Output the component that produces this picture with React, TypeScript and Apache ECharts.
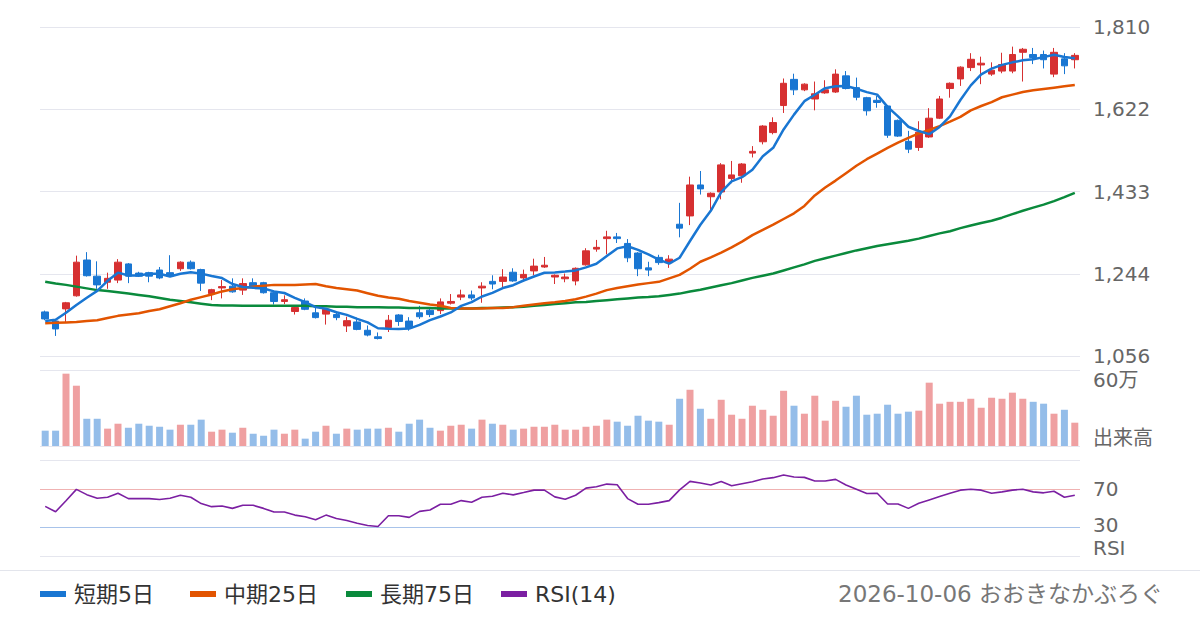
import React, { useEffect, useRef } from "react";
import * as echarts from "echarts";

// ---- data ----
const OPEN = [
  1157, 1136, 1164, 1194, 1276, 1239, 1225, 1230, 1267, 1246,
  1247, 1253, 1247, 1256, 1271, 1254, 1199, 1212, 1216, 1207,
  1224, 1224, 1201, 1181, 1158, 1182, 1155, 1152, 1151, 1125,
  1134, 1115, 1100, 1121, 1150, 1136, 1155, 1161, 1160, 1177,
  1191, 1196, 1212, 1227, 1227, 1248, 1235, 1251, 1260, 1237,
  1233, 1228, 1265, 1301, 1325, 1329, 1314, 1292, 1258, 1282,
  1270, 1358, 1377, 1448, 1421, 1432, 1463, 1469, 1521, 1547,
  1568, 1630, 1690, 1666, 1645, 1659, 1661, 1698, 1671, 1648,
  1642, 1629, 1596, 1548, 1534, 1558, 1601, 1669, 1691, 1717,
  1723, 1702, 1709, 1709, 1752, 1747, 1747, 1702, 1737, 1735,
];
const CLOSE = [
  1141, 1118, 1178, 1271, 1240, 1219, 1234, 1271, 1239, 1239,
  1239, 1235, 1239, 1271, 1256, 1223, 1208, 1215, 1203, 1222,
  1213, 1201, 1181, 1185, 1167, 1163, 1144, 1163, 1144, 1137,
  1117, 1104, 1096, 1138, 1135, 1121, 1146, 1151, 1180, 1181,
  1196, 1189, 1216, 1221, 1237, 1228, 1243, 1262, 1264, 1241,
  1237, 1257, 1297, 1305, 1329, 1325, 1281, 1256, 1253, 1270,
  1278, 1349, 1448, 1439, 1429, 1494, 1471, 1496, 1525, 1583,
  1591, 1681, 1666, 1679, 1657, 1666, 1702, 1669, 1649, 1618,
  1637, 1562, 1560, 1530, 1569, 1601, 1645, 1681, 1718, 1736,
  1727, 1711, 1724, 1747, 1759, 1740, 1735, 1752, 1721, 1745,
];
const HIGH = [
  1160, 1138, 1180, 1286, 1294, 1273, 1247, 1278, 1269, 1249,
  1249, 1260, 1287, 1273, 1275, 1256, 1210, 1230, 1234, 1234,
  1234, 1226, 1204, 1195, 1169, 1188, 1168, 1165, 1158, 1146,
  1144, 1126, 1110, 1150, 1152, 1145, 1171, 1168, 1188, 1198,
  1208, 1206, 1225, 1241, 1255, 1257, 1254, 1279, 1283, 1243,
  1245, 1259, 1303, 1322, 1343, 1338, 1324, 1294, 1272, 1288,
  1287, 1407, 1467, 1480, 1431, 1498, 1503, 1498, 1537, 1585,
  1603, 1692, 1703, 1681, 1685, 1688, 1713, 1709, 1694, 1650,
  1652, 1631, 1598, 1572, 1594, 1624, 1652, 1683, 1720, 1750,
  1742, 1729, 1751, 1765, 1762, 1762, 1756, 1762, 1750, 1750,
];
const LOW = [
  1138, 1102, 1134, 1192, 1238, 1210, 1210, 1223, 1223, 1237,
  1225, 1232, 1237, 1251, 1254, 1205, 1184, 1188, 1201, 1196,
  1211, 1199, 1174, 1175, 1151, 1161, 1142, 1128, 1138, 1111,
  1115, 1101, 1094, 1111, 1125, 1114, 1141, 1145, 1152, 1174,
  1184, 1184, 1178, 1209, 1214, 1226, 1227, 1241, 1258, 1221,
  1225, 1218, 1263, 1295, 1289, 1315, 1271, 1239, 1239, 1265,
  1258, 1328, 1356, 1426, 1390, 1415, 1452, 1453, 1511, 1541,
  1564, 1613, 1654, 1663, 1619, 1657, 1659, 1667, 1642, 1607,
  1625, 1556, 1558, 1521, 1526, 1556, 1599, 1648, 1675, 1709,
  1679, 1698, 1704, 1704, 1685, 1725, 1715, 1695, 1702, 1715,
];
const VOLUME = [
  121000, 121000, 571000, 476000, 215000, 215000, 137000, 176000, 144000, 176000,
  160000, 152000, 129000, 168000, 168000, 208000, 113000, 129000, 105000, 144000,
  97000, 81000, 129000, 97000, 129000, 58000, 113000, 160000, 97000, 137000,
  129000, 137000, 137000, 144000, 113000, 176000, 208000, 144000, 121000, 160000,
  168000, 137000, 208000, 176000, 168000, 129000, 137000, 152000, 152000, 168000,
  129000, 129000, 152000, 160000, 208000, 192000, 160000, 239000, 200000, 192000,
  168000, 373000, 444000, 294000, 215000, 365000, 247000, 215000, 318000, 286000,
  239000, 436000, 318000, 255000, 397000, 200000, 357000, 310000, 397000, 247000,
  255000, 326000, 255000, 271000, 279000, 500000, 334000, 349000, 349000, 373000,
  302000, 381000, 373000, 421000, 373000, 349000, 334000, 255000, 286000, 184000,
];
const MA5 = [
  1136, 1139, 1155, 1173, 1189.6, 1205.2, 1228.4, 1247.0, 1240.6, 1240.4,
  1244.4, 1244.6, 1238.2, 1244.6, 1248, 1244.8, 1239.4, 1234.6, 1221, 1214.2,
  1212.2, 1210.8, 1204, 1200.4, 1189.4, 1179.4, 1168, 1164.4, 1156.2, 1150.2,
  1141, 1133, 1119.6, 1118.4, 1118, 1118.8, 1127.2, 1138.2, 1146.6, 1155.8,
  1170.8, 1179.4, 1192.4, 1200.6, 1211.8, 1218.2, 1229, 1238.2, 1246.8, 1247.6,
  1249.4, 1252.2, 1259.2, 1267.4, 1285, 1302.6, 1307.4, 1299.2, 1288.8, 1277,
  1267.6, 1281.2, 1319.6, 1356.8, 1388.6, 1431.8, 1456.2, 1465.8, 1483, 1513.8,
  1533.2, 1575.2, 1609.2, 1640, 1654.8, 1669.8, 1674, 1674.6, 1668.6, 1660.8,
  1655, 1627, 1605.2, 1581.4, 1571.6, 1564.4, 1581, 1605.2, 1642.8, 1676.2,
  1701.4, 1714.6, 1723.2, 1729, 1733.6, 1736.2, 1741, 1746.6, 1741.4, 1738.6,
];
const MA25 = [
  1131, 1132, 1133, 1134, 1136, 1138, 1143, 1148, 1151, 1154,
  1159, 1163, 1170, 1177, 1185, 1191, 1197, 1204, 1209, 1212,
  1215, 1217, 1219, 1219, 1219, 1220, 1221, 1216, 1212, 1209,
  1206, 1200, 1194, 1190, 1187, 1182, 1178, 1174, 1171, 1166,
  1165, 1165, 1165, 1166, 1166, 1168, 1171, 1174, 1177, 1179,
  1182, 1186, 1192, 1199, 1207, 1212, 1216, 1220, 1223, 1226,
  1234, 1242, 1256, 1272, 1282, 1293, 1305, 1318, 1333, 1345,
  1357, 1370, 1383, 1400, 1424, 1442, 1458, 1475, 1492, 1507,
  1520, 1533, 1545, 1556, 1566, 1574, 1583, 1593, 1604, 1619,
  1629, 1638, 1649, 1655, 1661, 1665, 1668, 1671, 1674, 1677,
];
const MA75 = [
  1226, 1222, 1219, 1215, 1211, 1207, 1205, 1202, 1199, 1196,
  1193, 1189, 1185, 1182, 1179, 1176, 1173, 1172, 1172, 1171,
  1171, 1171, 1171, 1171, 1171, 1171, 1170, 1170, 1169, 1169,
  1168, 1168, 1168, 1167, 1167, 1166, 1166, 1166, 1165, 1165,
  1165, 1165, 1166, 1166, 1167, 1168, 1169, 1171, 1173, 1175,
  1177, 1179, 1180, 1182, 1184, 1186, 1188, 1190, 1191, 1193,
  1196, 1199, 1204, 1208, 1213, 1218, 1223, 1229, 1235, 1240,
  1245, 1252, 1259, 1266, 1274, 1280, 1286, 1292, 1298, 1303,
  1308, 1312, 1316, 1320, 1325, 1331, 1337, 1342, 1349, 1355,
  1361, 1366, 1373, 1381, 1389, 1396, 1403, 1411, 1420, 1430,
];
const RSI = [
  51.7, 46.1, 57.6, 69.4, 63.9, 60.2, 61.2, 65.4, 59.8, 59.8,
  59.8, 58.8, 60.2, 63.3, 61.2, 54.6, 51.4, 52.1, 49.6, 52.8,
  52.8, 49.6, 45.8, 45.8, 42.6, 40.9, 37.7, 42.6, 39.1, 37.0,
  34.2, 31.8, 30.7, 41.9, 41.9, 40.2, 46.5, 47.9, 53.9, 53.9,
  57.7, 56.0, 61.2, 62.3, 65.4, 63.7, 66.1, 68.6, 68.6, 61.6,
  59.1, 63.3, 70.7, 72.1, 74.9, 74.2, 59.8, 53.9, 53.9, 55.6,
  57.7, 68.9, 77.7, 76.0, 73.9, 77.7, 73.2, 75.3, 77.4, 80.2,
  81.6, 84.4, 82.3, 81.9, 78.1, 78.1, 79.8, 73.9, 69.6, 65.1,
  65.4, 54.2, 54.2, 49.6, 54.9, 58.4, 61.9, 65.4, 68.6, 69.6,
  68.6, 65.4, 66.8, 68.6, 69.6, 66.8, 65.8, 67.5, 61.2, 63.3,
];
const PRICE_TICKS = ["1,056", "1,244", "1,433", "1,622", "1,810"];
const PRICE_MIN = 1056;
const PRICE_MAX = 1810;
const VOLUME_MAX = 600000;
const VOLUME_LABELS = ["60万", "出来高"];
const RSI_LABELS = [30, 70];
const SERIES_NAMES = ["短期5日", "中期25日", "長期75日", "RSI(14)"];
const FOOTER = "2026-10-06 おおきなかぶろぐ";

const FONT = "'DejaVu Sans', 'Noto Sans CJK JP', sans-serif";
const UP = "#d63031";
const DOWN = "#1976d2";
const VUP = "#efa0a1";
const VDOWN = "#94bde9";
const C_MA5 = "#1976d2";
const C_MA25 = "#e25400";
const C_MA75 = "#0a8a3c";
const C_RSI = "#7b1fa2";
const GRIDLINE = "#e5e6ee";
const LABEL = "#666";
const LEGEND_LEFT = [40, 190, 346, 501];

export default function App() {
  const ref = useRef<HTMLDivElement>(null);
  useEffect(() => {
    if (!ref.current) return;
    const chart = echarts.init(ref.current, undefined, { renderer: "svg" });
    const cats = OPEN.map((_, i) => String(i + 1));
    const L = 40;
    const R = 120;
    const xBase = {
      type: "category",
      data: cats,
      boundaryGap: true,
      axisLine: { show: false },
      axisTick: { show: false },
      axisLabel: { show: false },
      splitLine: { show: false },
    };
    const labelStyle = { color: LABEL, fontSize: 20, fontFamily: FONT, lineHeight: 20 };
    const option: any = {
      animation: false,
      backgroundColor: "#fff",
      textStyle: { fontFamily: FONT },
      grid: [
        { left: L, right: R, top: 27, height: 329 },
        { left: L, right: R, top: 370, height: 76 },
        { left: L, right: R, top: 460, height: 96 },
      ],
      xAxis: [
        { ...xBase, gridIndex: 0 },
        { ...xBase, gridIndex: 1 },
        { ...xBase, gridIndex: 2 },
      ],
      yAxis: [
        {
          gridIndex: 0,
          type: "value",
          min: PRICE_MIN,
          max: PRICE_MAX,
          show: false,
          splitLine: { show: false },
        },
        {
          gridIndex: 0,
          type: "value",
          position: "right",
          min: 0,
          max: PRICE_TICKS.length - 1,
          interval: 1,
          axisLine: { show: false },
          axisTick: { show: false },
          axisLabel: {
            ...labelStyle,
            margin: 13,
            formatter: (v: number) => PRICE_TICKS[Math.round(v)] ?? "",
          },
          splitLine: { show: true, lineStyle: { color: GRIDLINE, width: 1 } },
        },
        {
          gridIndex: 1,
          type: "value",
          position: "right",
          min: 0,
          max: VOLUME_MAX,
          interval: VOLUME_MAX,
          axisLine: { show: false },
          axisTick: { show: false },
          axisLabel: { show: false },
          splitLine: { show: true, lineStyle: { color: GRIDLINE, width: 1 } },
        },
        {
          gridIndex: 2,
          type: "value",
          position: "right",
          min: 0,
          max: 100,
          interval: 10,
          axisLine: { show: false },
          axisTick: { show: false },
          axisLabel: {
            ...labelStyle,
            margin: 13,
            formatter: (v: number) =>
              v === RSI_LABELS[0] ? "{lo|" + v + "}" : v === RSI_LABELS[1] ? String(v) : "",
            rich: {
              lo: { ...labelStyle, padding: [0, 0, 4, 0] },
            },
          },
          splitLine: {
            show: true,
            lineStyle: {
              width: 1,
              color: [
                GRIDLINE,
                "rgba(0,0,0,0)",
                "rgba(0,0,0,0)",
                "#a8c3ea",
                "rgba(0,0,0,0)",
                "rgba(0,0,0,0)",
                "rgba(0,0,0,0)",
                "#f0b2b2",
                "rgba(0,0,0,0)",
                "rgba(0,0,0,0)",
                GRIDLINE,
              ],
            },
          },
        },
      ],
      legend: SERIES_NAMES.map((name, i) => ({
        left: LEGEND_LEFT[i],
        top: 583,
        padding: 0,
        icon: "rect",
        itemWidth: 26,
        itemHeight: 6,
        data: [name],
        selectedMode: false,
        textStyle: { fontSize: 22, color: "#333", fontFamily: FONT, padding: [0, 0, 0, 3] },
      })),
      graphic: [
        {
          type: "line",
          shape: { x1: 0, y1: 570.5, x2: 1200, y2: 570.5 },
          style: { stroke: "#e3e5ec", lineWidth: 1 },
          silent: true,
        },
        {
          type: "text",
          left: 1093,
          top: 370,
          style: { text: VOLUME_LABELS[0], fontSize: 20, fill: LABEL, fontFamily: FONT },
        },
        {
          type: "text",
          left: 1093,
          top: 428,
          style: { text: VOLUME_LABELS[1], fontSize: 20, fill: LABEL, fontFamily: FONT },
        },
        {
          type: "text",
          left: 1093,
          top: 538,
          style: { text: "RSI", fontSize: 20, fill: LABEL, fontFamily: FONT },
        },
        {
          type: "text",
          right: 37,
          top: 582,
          style: { text: FOOTER, fontSize: 23, fill: "#777", fontFamily: FONT },
        },
      ],
      series: [
        {
          name: "ローソク足",
          type: "candlestick",
          xAxisIndex: 0,
          yAxisIndex: 0,
          barWidth: 7,
          data: OPEN.map((o, i) => [o, CLOSE[i], LOW[i], HIGH[i]]),
          itemStyle: {
            color: UP,
            color0: DOWN,
            borderColor: UP,
            borderColor0: DOWN,
            borderWidth: 1,
          },
          z: 2,
        },
        {
          name: SERIES_NAMES[0],
          type: "line",
          xAxisIndex: 0,
          yAxisIndex: 0,
          data: MA5,
          symbol: "none",
          lineStyle: { color: C_MA5, width: 2.5 },
          itemStyle: { color: C_MA5 },
          z: 5,
        },
        {
          name: SERIES_NAMES[1],
          type: "line",
          xAxisIndex: 0,
          yAxisIndex: 0,
          data: MA25,
          symbol: "none",
          lineStyle: { color: C_MA25, width: 2.5 },
          itemStyle: { color: C_MA25 },
          z: 4,
        },
        {
          name: SERIES_NAMES[2],
          type: "line",
          xAxisIndex: 0,
          yAxisIndex: 0,
          data: MA75,
          symbol: "none",
          lineStyle: { color: C_MA75, width: 2.5 },
          itemStyle: { color: C_MA75 },
          z: 3,
        },
        {
          name: "出来高",
          type: "bar",
          xAxisIndex: 1,
          yAxisIndex: 2,
          barWidth: 7,
          data: VOLUME.map((v, i) => ({
            value: v,
            itemStyle: { color: CLOSE[i] >= OPEN[i] ? VUP : VDOWN },
          })),
        },
        {
          name: SERIES_NAMES[3],
          type: "line",
          xAxisIndex: 2,
          yAxisIndex: 3,
          data: RSI,
          symbol: "none",
          lineStyle: { color: C_RSI, width: 1.6 },
          itemStyle: { color: C_RSI },
        },
      ],
    };
    chart.setOption(option);
    return () => chart.dispose();
  }, []);
  return (
    <div
      ref={ref}
      style={{ position: "absolute", left: 0, top: 0, width: 1200, height: 630, background: "#fff" }}
    />
  );
}
